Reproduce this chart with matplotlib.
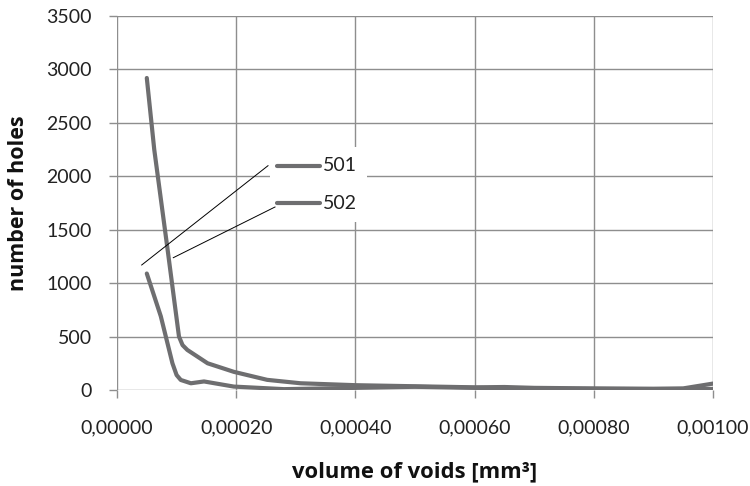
import matplotlib
matplotlib.use("Agg")
import matplotlib.pyplot as plt
from matplotlib.lines import Line2D
from matplotlib.patches import Rectangle
from matplotlib.ticker import FuncFormatter

# ---- data ----
x_501 = [0.00005, 0.0000625, 0.000085, 0.000096, 0.000104, 0.000110, 0.000118,
         0.000152, 0.000196, 0.000252, 0.000308, 0.0004, 0.0005, 0.0006, 0.00065,
         0.0007, 0.0008, 0.0009, 0.00095, 0.001]
y_501 = [2920, 2250, 1310, 840, 500, 420, 375, 250, 170, 95, 63, 45, 35, 25, 28,
         20, 15, 12, 15, 60]

x_502 = [0.00005, 0.0000735, 0.000093, 0.000100, 0.000107, 0.000124, 0.000146,
         0.000196, 0.00028, 0.0004, 0.0005, 0.0006, 0.0007, 0.0008, 0.0009, 0.001]
y_502 = [1090, 690, 250, 140, 94, 63, 80, 32, 8, 20, 30, 20, 12, 10, 8, 10]

series_names = ["501", "502"]
x_ticks = [0, 0.0002, 0.0004, 0.0006, 0.0008, 0.001]
y_ticks = [0, 500, 1000, 1500, 2000, 2500, 3000, 3500]

LINE_C = "#6e6e70"
GRID_C = "#8e8e8e"
FONT = "Lato"
TITLE_FONT = ["Open Sans", "DejaVu Sans"]

W, H = 750, 486
fig = plt.figure(figsize=(7.5, 4.86), dpi=100)
ax = fig.add_axes([117 / W, 1 - 390 / H, (713 - 117) / W, (390 - 16) / H])

ax.set_xlim(0, 0.001)
ax.set_ylim(0, 3500)
ax.set_xticks(x_ticks)
ax.set_yticks(y_ticks)
ax.xaxis.set_major_formatter(FuncFormatter(lambda v, p: f"{v:.5f}".replace(".", ",")))
ax.grid(True, color=GRID_C, linewidth=1.0)
ax.set_axisbelow(True)
for s in ax.spines.values():
    s.set_visible(False)
ax.tick_params(axis="both", length=6, width=1.0, color=GRID_C,
               labelsize=14, labelcolor="#222222")
ax.tick_params(axis="x", pad=15)
ax.tick_params(axis="y", pad=12)
for lab in ax.get_xticklabels() + ax.get_yticklabels():
    lab.set_fontfamily(FONT)

l1, = ax.plot(x_501, y_501, color=LINE_C, lw=3.0, solid_joinstyle="round",
              solid_capstyle="round", zorder=3)
l2, = ax.plot(x_502, y_502, color=LINE_C, lw=3.0, solid_joinstyle="round",
              solid_capstyle="round", zorder=3)


# ---- figure pixel helpers ----
def fx(px):
    return px / W


def fy(py):
    return 1 - py / H


fig.text(fx(415), fy(472), "volume of voids [mm³]", fontsize=15.8,
         fontweight="bold", fontfamily=TITLE_FONT, ha="center", va="center",
         color="#111111")
fig.text(fx(19), fy(203), "number of holes", fontsize=15.5, fontweight="bold",
         fontfamily=TITLE_FONT, ha="center", va="center", rotation=90,
         color="#111111")

# ---- series labels with leader lines ----
fig.add_artist(Rectangle((fx(270), fy(222)), fx(367) - fx(270), fy(147) - fy(222),
                         transform=fig.transFigure, facecolor="white",
                         edgecolor="none", zorder=4))
label_rows = [(165.7, (268, 165.7), (141.7, 265)), (203.3, (275, 207), (173.3, 257.7))]
for name, (ly, lstart, lend) in zip(series_names, label_rows):
    fig.add_artist(Line2D([fx(277), fx(320)], [fy(ly), fy(ly)], color=LINE_C,
                          lw=3.0, solid_capstyle="round", transform=fig.transFigure,
                          zorder=5))
    fig.text(fx(323), fy(ly), name, fontsize=14, fontfamily=FONT, va="center",
             ha="left", color="#222222", zorder=5)
    fig.add_artist(Line2D([fx(lstart[0]), fx(lend[0])], [fy(lstart[1]), fy(lend[1])],
                          color="black", lw=0.7, transform=fig.transFigure, zorder=5))

fig.savefig("out.png", dpi=100)
